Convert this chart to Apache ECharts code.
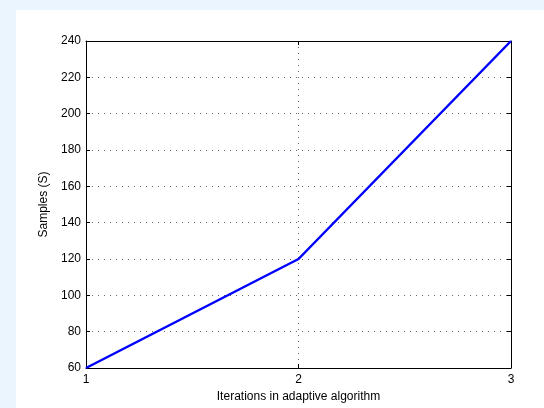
<!DOCTYPE html>
<html>
<head>
<meta charset="utf-8">
<script src="https://cdn.jsdelivr.net/npm/echarts@6/dist/echarts.min.js"></script>
<style>
html,body{margin:0;padding:0;background:#eaf5fd;}
#wrap{position:absolute;left:16px;top:10px;width:528px;height:398px;background:#fff;}
#chart{position:absolute;left:0;top:0;width:544px;height:408px;}
</style>
</head>
<body>
<div id="wrap"></div>
<div id="chart"></div>
<script>
const iterations = [1, 2, 3];
const samples = [60, 120, 240];
const xTicks = [1, 2, 3];
const yTicks = [60, 80, 100, 120, 140, 160, 180, 200, 220, 240];

const font = 'Liberation Sans, Arial, Helvetica, sans-serif';
const chart = echarts.init(document.getElementById('chart'), null, {renderer: 'canvas'});
const dotted = {show: true, lineStyle: {color: '#666', width: 1, type: [1, 5]}};
const tickIn = {show: true, inside: true, length: 4, lineStyle: {color: '#000', width: 1}};
const axisLine = {show: true, onZero: false, lineStyle: {color: '#000', width: 1}};

chart.setOption({
  animation: false,
  backgroundColor: 'transparent',
  grid: {left: 86, right: 33, top: 41, bottom: 40, containLabel: false},
  xAxis: [{
    type: 'value', min: xTicks[0], max: xTicks[xTicks.length - 1], interval: 1,
    position: 'bottom',
    name: 'Iterations in adaptive algorithm', nameLocation: 'middle', nameGap: 21,
    nameTextStyle: {color: '#000', fontFamily: font, fontSize: 12},
    axisLine: axisLine, axisTick: tickIn, splitLine: dotted,
    axisLabel: {color: '#000', fontFamily: font, fontSize: 12, margin: 6}
  }, {
    type: 'value', min: xTicks[0], max: xTicks[xTicks.length - 1], interval: 1,
    position: 'top',
    axisLine: axisLine, axisTick: tickIn, splitLine: {show: false},
    axisLabel: {show: false}
  }],
  yAxis: [{
    type: 'value', min: yTicks[0], max: yTicks[yTicks.length - 1], interval: 20,
    position: 'left',
    name: 'Samples (S)', nameLocation: 'middle', nameGap: 34,
    nameTextStyle: {color: '#000', fontFamily: font, fontSize: 12},
    axisLine: axisLine, axisTick: tickIn, splitLine: dotted,
    axisLabel: {color: '#000', fontFamily: font, fontSize: 12, margin: 5}
  }, {
    type: 'value', min: yTicks[0], max: yTicks[yTicks.length - 1], interval: 20,
    position: 'right',
    axisLine: axisLine, axisTick: tickIn, splitLine: {show: false},
    axisLabel: {show: false}
  }],
  series: [{
    type: 'line',
    data: iterations.map((x, i) => [x, samples[i]]),
    showSymbol: false,
    lineStyle: {color: '#0000ff', width: 2.5},
    clip: false
  }]
});
</script>
</body>
</html>
